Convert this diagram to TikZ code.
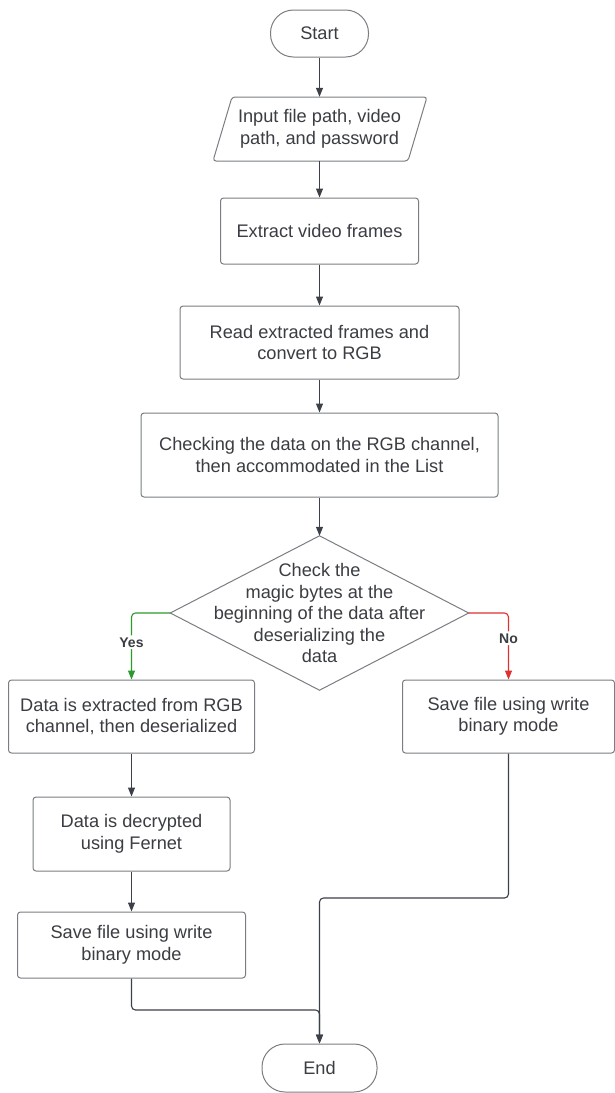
\documentclass[tikz,border=0pt]{standalone}
\usepackage{fontspec}
\setmainfont{Liberation Sans}
\usetikzlibrary{arrows.meta}
\definecolor{ln}{HTML}{3C4048}
\definecolor{bd}{HTML}{7A7E84}
\definecolor{tx}{HTML}{3A3D42}
\definecolor{yesc}{HTML}{2E9A2E}
\definecolor{noc}{HTML}{E03030}
\begin{document}
\begin{tikzpicture}[x=1pt,y=-1pt,
  box/.style={draw=bd, line width=1pt, rounded corners=3pt, text=tx, align=center,
    font=\fontsize{18.2}{21.5}\selectfont, inner sep=0pt},
  term/.style={box, rounded corners=23pt},
  ghost/.style={text=tx, align=center, font=\fontsize{18.2}{21.5}\selectfont, inner sep=0pt},
  arr/.style={draw=ln, line width=1.1pt, rounded corners=4pt, -{Triangle[length=9pt,width=7pt]}},
  lab/.style={fill=white, text=tx, font=\fontsize{14}{16}\selectfont\bfseries, inner sep=2pt}]
\useasboundingbox (0,0) rectangle (614,1093);
\fill[white] (0,0) rectangle (614,1093);

\node[term, minimum width=98pt, minimum height=47pt] (start) at (319.5,33.5) {Start};
\node[ghost, minimum width=195pt, minimum height=64pt] (inp) at (319.5,129) {Input file path, video\\path, and password};
\draw[draw=bd, line width=1pt, rounded corners=3pt] (232,97) -- (427,97) -- (408,161) -- (213,161) -- cycle;
\node[box, minimum width=198pt, minimum height=66pt] (b2) at (319.5,231) {Extract video frames};
\node[box, minimum width=279pt, minimum height=73pt] (b3) at (319.5,342.5) {Read extracted frames and\\convert to RGB};
\node[box, minimum width=357pt, minimum height=84pt] (b4) at (319.5,455) {Checking the data on the RGB channel,\\then accommodated in the List};
\node[ghost, minimum width=298pt, minimum height=154pt] (dia) at (319.5,613) {Check the\\magic bytes at the\\beginning of the data after\\deserializing the\\data};
\draw[draw=bd, line width=1pt] (dia.north) -- (dia.east) -- (dia.south) -- (dia.west) -- cycle;
\node[box, minimum width=246pt, minimum height=73pt] (b6) at (131.5,716.5) {Data is extracted from RGB\\channel, then deserialized};
\node[box, minimum width=212pt, minimum height=73pt] (b5) at (508.5,716.5) {Save file using write\\binary mode};
\node[box, minimum width=197pt, minimum height=74pt] (b7) at (131.5,834) {Data is decrypted\\using Fernet};
\node[box, minimum width=228pt, minimum height=66pt] (b8) at (131.5,945) {Save file using write\\binary mode};
\node[term, minimum width=115pt, minimum height=48pt] (end) at (319.5,1068) {End};

\coordinate (j1) at (319.5,1010);
\coordinate (j2) at (319.5,898);

\draw[arr] (start) -- (inp);
\draw[arr] (inp) -- (b2);
\draw[arr] (b2) -- (b3);
\draw[arr] (b3) -- (b4);
\draw[arr] (b4) -- (dia.north);
\draw[arr, draw=yesc] (dia.west) -| (b6.north) node[lab, pos=0.72] {Yes};
\draw[arr, draw=noc] (dia.east) -| (b5.north) node[lab, pos=0.69] {No};
\draw[arr] (b6) -- (b7);
\draw[arr] (b7) -- (b8);
\draw[arr] (b8.south) |- (j1) -- (end.north);
\draw[arr] (b5.south) |- (j2) -- (end.north);
\end{tikzpicture}
\end{document}
